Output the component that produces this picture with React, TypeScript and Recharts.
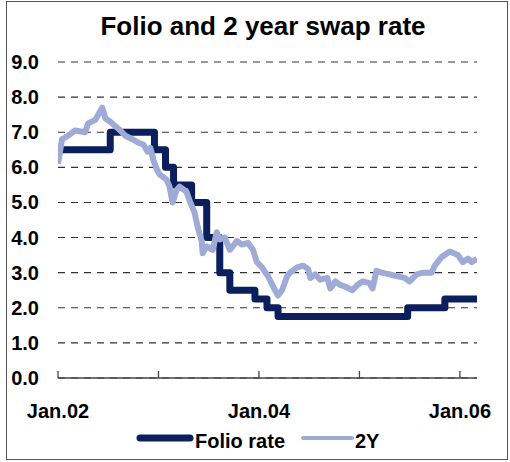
import { CartesianGrid, Line, LineChart, XAxis, YAxis } from 'recharts'

const FONT = '"Liberation Sans", Arial, sans-serif'

// x values are decimal years
const folioDates = [2002.0, 2002.52, 2002.96, 2003.07, 2003.15, 2003.33, 2003.48, 2003.61, 2003.71, 2003.96, 2004.08, 2004.19, 2005.48, 2005.85, 2006.17]
const folioRates = [6.5, 7.0, 6.5, 6.0, 5.5, 5.0, 4.0, 3.0, 2.5, 2.25, 2.0, 1.75, 2.0, 2.25, 2.25]

const swapDates = [
  2002.0, 2002.04, 2002.1, 2002.17, 2002.27, 2002.3, 2002.37, 2002.4, 2002.44, 2002.47,
  2002.52, 2002.6, 2002.67, 2002.74, 2002.8, 2002.85, 2002.89, 2002.92, 2002.95, 2002.99,
  2003.01, 2003.08, 2003.11, 2003.14, 2003.18, 2003.21, 2003.28, 2003.31, 2003.36, 2003.39,
  2003.43, 2003.44, 2003.48, 2003.54, 2003.58, 2003.61, 2003.66, 2003.71, 2003.78, 2003.83,
  2003.89, 2003.94, 2003.98, 2004.03, 2004.09, 2004.16, 2004.19, 2004.23, 2004.28, 2004.31,
  2004.38, 2004.44, 2004.49, 2004.51, 2004.56, 2004.61, 2004.68, 2004.71, 2004.76, 2004.81,
  2004.86, 2004.93, 2004.98, 2005.03, 2005.1, 2005.13, 2005.17, 2005.22, 2005.3, 2005.37,
  2005.45, 2005.5, 2005.57, 2005.63, 2005.72, 2005.75, 2005.82, 2005.9, 2005.98, 2006.03,
  2006.08, 2006.12, 2006.17,
]
const swapRates = [
  6.1, 6.8, 6.9, 7.05, 7.0, 7.25, 7.35, 7.5, 7.7, 7.4,
  7.3, 7.1, 6.9, 6.8, 6.7, 6.65, 6.45, 6.55, 6.2, 5.9,
  5.8, 5.65, 5.45, 5.0, 5.35, 5.45, 5.3, 5.05, 4.7, 4.3,
  3.9, 3.55, 3.75, 3.65, 4.15, 3.95, 4.0, 3.65, 3.9, 3.8,
  3.85, 3.65, 3.3, 3.15, 2.9, 2.5, 2.35, 2.5, 2.9, 3.0,
  3.15, 3.2, 3.1, 2.85, 2.95, 2.8, 2.85, 2.55, 2.75, 2.65,
  2.6, 2.5, 2.65, 2.75, 2.7, 2.55, 3.05, 3.0, 2.95, 2.9,
  2.85, 2.75, 2.95, 3.0, 3.0, 3.2, 3.45, 3.6, 3.5, 3.3,
  3.4, 3.3, 3.4,
]

const yearTicks = [2002, 2003, 2004, 2005, 2006]
const yearLabels: Record<number, string> = { 2002: 'Jan.02', 2004: 'Jan.04', 2006: 'Jan.06' }
const rateTicks = [0, 1, 2, 3, 4, 5, 6, 7, 8, 9]

const folioData = folioDates.map((t, i) => ({ t, folio: folioRates[i] }))
const swapData = swapDates.map((t, i) => ({ t, swap: swapRates[i] }))

const NAVY = '#0b1f5c'
const LIGHT = '#9eabd6'

function YearTick({ x, y, payload }: any) {
  const label = yearLabels[payload.value]
  return (
    <g>
      <line x1={x} x2={x} y1={y} y2={y - 7} stroke="#444" strokeWidth={1.3} />
      {label && (
        <text x={x} y={y + 40} textAnchor="middle" fontFamily={FONT} fontWeight="bold" fontSize={20} fill="#000">
          {label}
        </text>
      )}
    </g>
  )
}

function RateTick({ x, y, payload }: any) {
  return (
    <text x={x} y={y + 7} textAnchor="end" fontFamily={FONT} fontWeight="bold" fontSize={20} fill="#000">
      {payload.value.toFixed(1)}
    </text>
  )
}

export default function App() {
  return (
    <div style={{ position: 'absolute', left: 0, top: 0, width: 510, height: 462, background: '#fff' }}>
      <div style={{ position: 'absolute', left: 6, top: 1, width: 500, height: 457, border: '1.5px solid #555' }} />
      <LineChart width={510} height={462} margin={{ top: 62, right: 33, left: 0, bottom: 0 }} style={{ position: 'absolute', left: 0, top: 0 }}>
        <CartesianGrid vertical={false} stroke="#333" strokeWidth={1.1} strokeDasharray="7 6" />
        <XAxis
          type="number"
          dataKey="t"
          domain={[2002, 2006.17]}
          ticks={yearTicks}
          allowDataOverflow
          height={84}
          tickSize={0}
          tickMargin={0}
          tickLine={false}
          axisLine={{ stroke: '#444', strokeWidth: 1.3 }}
          tick={<YearTick />}
          interval={0}
        />
        <YAxis
          domain={[0, 9]}
          ticks={rateTicks}
          width={58}
          axisLine={false}
          tickLine={false}
          tickSize={0}
          tickMargin={19}
          tick={<RateTick />}
          interval={0}
        />
        <Line
          data={folioData}
          dataKey="folio"
          type="stepAfter"
          stroke={NAVY}
          strokeWidth={7}
          strokeLinejoin="round"
          dot={false}
          isAnimationActive={false}
        />
        <Line
          data={swapData}
          dataKey="swap"
          type="linear"
          stroke={LIGHT}
          strokeWidth={6}
          strokeLinejoin="round"
          dot={false}
          isAnimationActive={false}
        />
      </LineChart>
      <svg width={510} height={462} style={{ position: 'absolute', left: 0, top: 0, pointerEvents: 'none' }}>
        <text x={263} y={35} textAnchor="middle" fontFamily={FONT} fontWeight="bold" fontSize={26} fill="#000">
          Folio and 2 year swap rate
        </text>
        <line x1={140} x2={190} y1={438} y2={438} stroke={NAVY} strokeWidth={7} strokeLinecap="round" />
        <text x={195} y={448} fontFamily={FONT} fontWeight="bold" fontSize={20} fill="#000">
          Folio rate
        </text>
        <line x1={303} x2={352} y1={438} y2={438} stroke={LIGHT} strokeWidth={4} strokeLinecap="round" />
        <text x={355} y={448} fontFamily={FONT} fontWeight="bold" fontSize={20} fill="#000">
          2Y
        </text>
      </svg>
    </div>
  )
}
